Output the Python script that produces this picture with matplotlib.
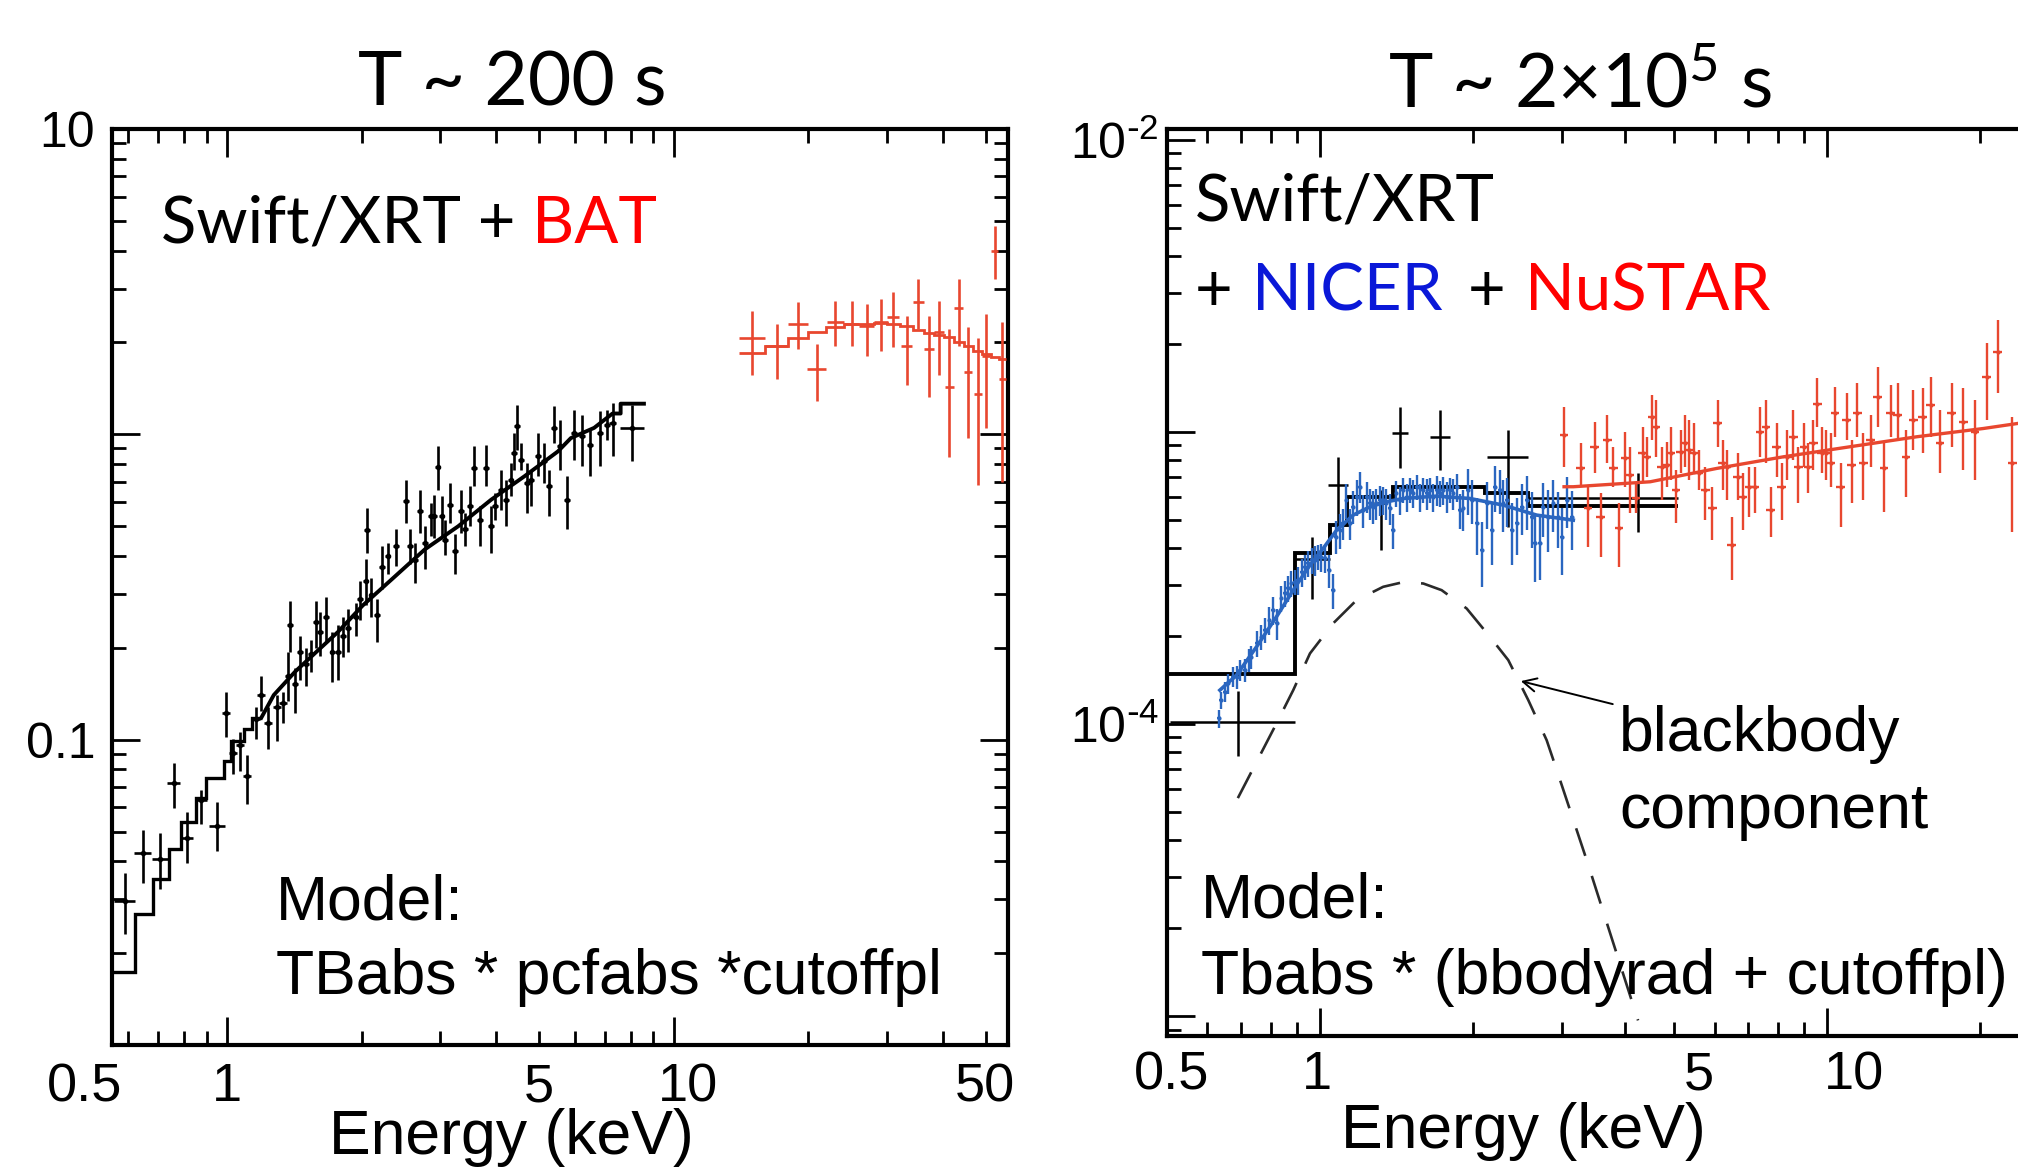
import numpy as np
import matplotlib
matplotlib.use("Agg")
import matplotlib.pyplot as plt
from matplotlib.ticker import FixedLocator, FuncFormatter, LogLocator, NullFormatter
from matplotlib.transforms import blended_transform_factory, offset_copy

plt.rcParams['font.family'] = ['Liberation Sans', 'DejaVu Sans']
plt.rcParams['mathtext.default'] = 'regular'

# ---------------- left panel: T ~ 200 s ----------------
# Swift/XRT points (keV, flux, lower, upper)
xrt1_e = [0.589, 0.647, 0.707, 0.758, 0.811, 0.873, 0.948, 0.992, 1.030, 1.068, 1.108, 1.160,
          1.192, 1.236, 1.294, 1.331, 1.368, 1.385, 1.419, 1.458, 1.499, 1.541, 1.578, 1.614,
          1.667, 1.720, 1.768, 1.817, 1.867, 1.938, 1.981, 2.040, 2.059, 2.103, 2.163, 2.220,
          2.285, 2.384, 2.51, 2.566, 2.633, 2.70, 2.771, 2.858, 2.908, 2.958, 3.019, 3.071,
          3.151, 3.233, 3.333, 3.402, 3.491, 3.570, 3.674, 3.802, 3.902, 3.983, 4.109, 4.215,
          4.309, 4.384, 4.46, 4.55, 4.69, 4.79, 4.96, 5.13, 5.26, 5.40, 5.56, 5.76, 5.98,
          6.22, 6.50, 6.84, 7.10, 7.29, 8.07]
xrt1_f = [0.0297, 0.0427, 0.0406, 0.0721, 0.0478, 0.0634, 0.0523, 0.122, 0.0906, 0.0961, 0.0759, 0.1167,
          0.1396, 0.1133, 0.1276, 0.1315, 0.1619, 0.2383, 0.1525, 0.1936, 0.177, 0.191, 0.242, 0.2245,
          0.253, 0.1936, 0.1936, 0.2182, 0.2314, 0.253, 0.2891, 0.3307, 0.4867, 0.298, 0.2567, 0.367,
          0.401, 0.430, 0.603, 0.430, 0.389, 0.560, 0.441, 0.539, 0.539, 0.782, 0.539, 0.452,
          0.589, 0.414, 0.560, 0.488, 0.581, 0.776, 0.526, 0.776, 0.500, 0.581, 0.659, 0.611,
          0.711, 0.869, 1.061, 0.826, 0.693, 0.711, 0.847, 0.815, 0.676, 1.049, 0.913, 0.611, 1.01,
          0.984, 0.925, 1.01, 1.075, 1.089, 1.049]
xrt1_lo = [0.0231, 0.0340, 0.0325, 0.0598, 0.0394, 0.0531, 0.0431, 0.102, 0.0770, 0.079, 0.0615, 0.1006,
           0.1239, 0.0934, 0.099, 0.1133, 0.1334, 0.1936, 0.122, 0.1572, 0.1504, 0.167, 0.1994, 0.188,
           0.2084, 0.1549, 0.1572, 0.186, 0.194, 0.2182, 0.246, 0.2767, 0.4072, 0.253, 0.2084, 0.311,
           0.35, 0.370, 0.513, 0.375, 0.327, 0.476, 0.361, 0.464, 0.458, 0.659, 0.464, 0.404,
           0.513, 0.348, 0.476, 0.430, 0.500, 0.676, 0.430, 0.676, 0.409, 0.526, 0.567, 0.500,
           0.627, 0.766, 0.891, 0.766, 0.553, 0.581, 0.729, 0.693, 0.539, 0.937, 0.766, 0.488, 0.826,
           0.785, 0.729, 0.785, 0.96, 0.847, 0.815]
xrt1_hi = [0.0366, 0.0507, 0.0493, 0.0841, 0.0580, 0.0683, 0.0625, 0.1437, 0.1006, 0.106, 0.0893, 0.1276,
           0.1619, 0.1276, 0.1396, 0.1437, 0.1936, 0.285, 0.1718, 0.2182, 0.1994, 0.212, 0.285, 0.261,
           0.2935, 0.2245, 0.2383, 0.253, 0.268, 0.2808, 0.33, 0.3894, 0.5735, 0.338, 0.2891, 0.432,
           0.44, 0.488, 0.711, 0.488, 0.441, 0.659, 0.500, 0.596, 0.635, 0.913, 0.627, 0.526,
           0.693, 0.470, 0.659, 0.553, 0.676, 0.913, 0.581, 0.925, 0.581, 0.643, 0.766, 0.711,
           0.806, 1.01, 1.249, 0.937, 0.806, 0.766, 1.01, 0.937, 0.766, 1.234, 1.116, 0.729, 1.203,
           1.159, 1.035, 1.188, 1.203, 1.266, 1.249]
# half bin width as a fraction of the energy
xrt1_dx = [0.055, 0.045, 0.04, 0.035, 0.035, 0.03, 0.04, 0.02, 0.02, 0.02, 0.02, 0.02,
           0.02, 0.02, 0.02, 0.02, 0.015, 0.015, 0.015, 0.015, 0.015, 0.015, 0.015, 0.015,
           0.015, 0.015, 0.015, 0.015, 0.015, 0.015, 0.015, 0.015, 0.015, 0.015, 0.015, 0.015,
           0.015, 0.015, 0.015, 0.015, 0.015, 0.015, 0.015, 0.015, 0.015, 0.015, 0.015, 0.015,
           0.015, 0.015, 0.015, 0.015, 0.015, 0.015, 0.015, 0.015, 0.015, 0.015, 0.015, 0.015,
           0.015, 0.015, 0.015, 0.015, 0.015, 0.015, 0.015, 0.015, 0.015, 0.015, 0.015, 0.015, 0.015,
           0.015, 0.015, 0.015, 0.015, 0.02, 0.06]
# XRT model: wide steps at low energy, then the densely binned part
xrt1_step_edges = [0.552, 0.622, 0.682, 0.740, 0.789, 0.849, 0.897, 0.983, 1.02, 1.088, 1.139, 1.192]
xrt1_step_vals = [0.0174, 0.0268, 0.0350, 0.0438, 0.0539, 0.0644, 0.0747, 0.0853, 0.0991, 0.108, 0.118]
xrt1_mod_e = [1.192, 1.271, 1.419, 1.584, 1.768, 2.01, 2.335, 2.77, 3.29, 3.90, 4.63, 5.50, 5.88,
              6.63, 7.29, 7.60, 7.60, 8.57]
xrt1_mod_f = [0.118, 0.140, 0.167, 0.194, 0.225, 0.275, 0.335, 0.420, 0.500, 0.611, 0.729, 0.879, 0.972,
              1.05, 1.17, 1.17, 1.26, 1.26]

# Swift/BAT points
bat_e = [15.0, 17.0, 19.0, 20.9, 23.0, 25.0, 27.0, 29.1, 31.0, 33.2, 35.3, 37.3, 39.3, 41.4,
         43.5, 45.6, 47.9, 50.1, 52.3, 54.4]
bat_f = [2.06, 1.94, 2.30, 1.64, 2.34, 2.30, 2.27, 2.33, 2.42, 1.95, 2.71, 1.91, 2.16, 1.43,
         2.59, 1.60, 1.36, 1.81, 3.98, 1.52]
bat_lo = [1.56, 1.52, 1.91, 1.29, 1.95, 1.95, 1.81, 1.88, 1.93, 1.45, 2.21, 1.33, 1.56, 0.84,
          1.95, 0.97, 0.68, 1.05, 3.22, 0.70]
bat_hi = [2.54, 2.30, 2.71, 1.98, 2.74, 2.74, 2.67, 2.77, 2.92, 2.45, 3.22, 2.45, 2.74, 2.21,
          3.22, 2.24, 2.06, 2.48, 4.81, 2.33]
bat_de = 1.0  # keV half width of the BAT bins
bat_mod = [1.84, 1.94, 2.06, 2.16, 2.24, 2.30, 2.30, 2.31, 2.30, 2.27, 2.20, 2.15, 2.11, 2.08,
           2.00, 1.95, 1.88, 1.83, 1.79, 1.76]

# ---------------- right panel: T ~ 2x10^5 s ----------------
xrt2_e = [0.69, 0.967, 1.087, 1.317, 1.438, 1.725, 2.345, 4.24]
xrt2_elo = [0.506, 0.893, 1.038, 1.28, 1.385, 1.648, 2.132, 2.57]
xrt2_ehi = [0.893, 1.046, 1.137, 1.35, 1.493, 1.805, 2.576, 5.09]
xrt2_f = [1.02e-4, 3.69e-4, 6.58e-4, 5.7e-4, 9.9e-4, 9.64e-4, 8.23e-4, 5.97e-4]
xrt2_lo = [7.8e-5, 2.69e-4, 4.87e-4, 3.94e-4, 7.51e-4, 7.41e-4, 4.74e-4, 4.55e-4]
xrt2_hi = [1.3e-4, 4.38e-4, 8.23e-4, 6.33e-4, 1.22e-3, 1.19e-3, 1.016e-3, 7.26e-4]
xrt2_mod_edges = [0.5, 0.893, 1.046, 1.129, 1.395, 2.116, 2.576, 5.09]
xrt2_mod_vals = [1.49e-4, 3.85e-4, 4.8e-4, 6.0e-4, 6.5e-4, 6.17e-4, 5.6e-4]

nicer_e = [0.633, 0.637, 0.650, 0.659, 0.673, 0.685, 0.697, 0.711, 0.724, 0.733, 0.752, 0.767,
           0.779, 0.795, 0.809, 0.824, 0.840, 0.853, 0.866, 0.879, 0.893, 0.906, 0.920, 0.934,
           0.948, 0.963, 0.977, 0.992, 1.007, 1.023, 1.043, 1.062,
           1.075, 1.095, 1.112, 1.128, 1.146, 1.163, 1.181, 1.199, 1.217, 1.236, 1.255, 1.274,
           1.293, 1.313, 1.333, 1.353, 1.374, 1.395,
           1.416, 1.438, 1.460, 1.482, 1.505, 1.528, 1.551, 1.575, 1.599, 1.623, 1.648, 1.673,
           1.699, 1.725, 1.751, 1.778, 1.805, 1.833, 1.860, 1.889,
           1.918, 1.961, 1.991, 2.037, 2.084, 2.132, 2.181, 2.214, 2.265, 2.300, 2.335, 2.388,
           2.443, 2.499, 2.557, 2.616, 2.656, 2.716, 2.757, 2.820, 2.886, 2.952, 2.997, 3.066, 3.136]
nicer_f = [1.046e-4, 1.208e-4, 1.290e-4, 1.378e-4, 1.452e-4, 1.452e-4, 1.531e-4, 1.531e-4, 1.657e-4,
           1.701e-4, 1.889e-4, 1.991e-4, 2.099e-4, 2.271e-4, 2.458e-4, 2.212e-4, 2.694e-4, 2.802e-4,
           2.914e-4, 3.031e-4, 3.071e-4, 3.112e-4, 3.322e-4, 3.456e-4, 3.549e-4, 3.643e-4, 3.643e-4,
           3.741e-4, 3.741e-4, 3.692e-4, 3.366e-4, 2.876e-4,
           4.379e-4, 4.617e-4, 4.866e-4, 5.848e-4, 4.866e-4, 5.549e-4, 6.003e-4, 6.500e-4, 5.405e-4,
           6.003e-4, 5.696e-4, 5.549e-4, 5.696e-4, 5.848e-4, 5.848e-4, 5.696e-4, 5.476e-4, 4.617e-4,
           6.166e-4, 5.848e-4, 6.330e-4, 6.003e-4, 6.330e-4, 6.166e-4, 6.500e-4, 6.003e-4, 6.330e-4,
           6.166e-4, 6.330e-4, 6.003e-4, 6.330e-4, 6.166e-4, 6.330e-4, 6.003e-4, 6.330e-4, 6.166e-4,
           6.500e-4, 5.405e-4,
           5.476e-4, 6.330e-4, 5.848e-4, 4.866e-4, 3.943e-4, 5.696e-4, 4.617e-4, 6.500e-4, 6.330e-4,
           5.696e-4, 5.848e-4, 4.617e-4, 4.866e-4, 5.549e-4, 5.848e-4, 5.129e-4, 4.155e-4, 4.155e-4,
           5.549e-4, 5.129e-4, 5.696e-4, 5.129e-4, 4.379e-4, 5.848e-4, 5.129e-4]
# relative size of each NICER bar
nicer_err = [0.07, 0.07, 0.08, 0.08, 0.08, 0.09, 0.08, 0.09, 0.09, 0.09, 0.10, 0.10, 0.10, 0.11,
             0.11, 0.12, 0.10, 0.10, 0.10, 0.10, 0.10, 0.11, 0.11, 0.10, 0.10, 0.10, 0.12, 0.10,
             0.11, 0.11, 0.13, 0.14,
             0.13, 0.14, 0.12, 0.14, 0.12, 0.13, 0.14, 0.12, 0.13, 0.12, 0.12, 0.13, 0.12, 0.12,
             0.11, 0.12, 0.12, 0.14,
             0.10, 0.11, 0.10, 0.11, 0.10, 0.11, 0.10, 0.11, 0.10, 0.12, 0.10, 0.11, 0.12, 0.10,
             0.11, 0.12, 0.10, 0.12, 0.11, 0.14,
             0.16, 0.18, 0.17, 0.22, 0.25, 0.18, 0.24, 0.18, 0.17, 0.20, 0.19, 0.24, 0.22, 0.20,
             0.21, 0.22, 0.26, 0.25, 0.21, 0.24, 0.20, 0.22, 0.26, 0.20, 0.23]
nicer_mod_e = [0.635, 0.685, 0.750, 0.821, 0.899, 0.956, 1.015, 1.079, 1.163, 1.255, 1.353, 1.460,
               1.699, 1.976, 2.300, 2.676, 3.16]
nicer_mod_f = [1.307e-4, 1.472e-4, 1.840e-4, 2.331e-4, 2.992e-4, 3.503e-4, 3.995e-4, 4.617e-4,
               5.197e-4, 5.549e-4, 5.771e-4, 5.925e-4, 6.037e-4, 5.925e-4, 5.623e-4, 5.197e-4, 4.994e-4]

nustar_e = [3.03, 3.27, 3.38, 3.48, 3.58, 3.69, 3.79, 3.89, 4.00, 4.09, 4.20, 4.33, 4.41, 4.52,
            4.60, 4.72, 4.83, 4.92, 5.04, 5.15, 5.25, 5.35, 5.47, 5.58, 5.75, 5.94, 6.09, 6.23,
            6.34, 6.49, 6.66, 6.82, 7.03, 7.21, 7.38, 7.58, 7.75, 7.96, 8.14, 8.35, 8.58, 8.78,
            9.01, 9.19, 9.40, 9.57, 9.76, 9.95, 10.18, 10.37, 10.64, 10.94, 11.19, 11.48, 11.80,
            12.19, 12.59, 12.96, 13.36, 13.79, 14.32, 14.80, 15.44, 16.02, 16.71, 17.62, 18.57,
            19.58, 20.65, 21.71, 23.2]
# NuSTAR fluxes in units of 1e-4
nustar_f4 = [9.77, 7.51, 5.48, 8.91, 5.13, 9.39, 7.51, 4.68, 8.13, 7.12,
             5.93, 8.45, 8.23, 11.28, 10.43, 7.61, 7.71, 8.45, 6.33, 8.56,
             9.15, 8.68, 8.45, 7.22, 6.33, 5.48, 10.71, 7.81, 7.61, 4.10,
             7.03, 6.00, 6.50, 6.50, 10.03, 10.43, 5.41, 8.91, 6.50, 8.23,
             9.64, 7.61, 8.91, 7.61, 9.15, 12.53, 8.45, 8.45, 7.81, 11.59,
             6.50, 10.99, 7.71, 11.59, 7.81, 9.39, 13.21, 7.51, 11.59, 11.44,
             8.23, 10.99, 11.28, 12.37, 9.15, 11.59, 10.85, 10.03, 15.47, 18.85, 7.81]
nustar_hi4 = [12.21, 9.15, 6.50, 10.85, 6.17, 11.44, 8.91, 5.70, 10.03, 8.91,
              6.76, 10.43, 9.64, 13.38, 12.87, 8.91, 9.27, 10.43, 7.41, 10.16,
              11.44, 10.99, 10.71, 8.68, 7.61, 6.50, 12.87, 9.39, 8.68, 5.13,
              8.45, 7.22, 7.61, 7.61, 12.21, 12.87, 6.50, 10.71, 7.81, 10.16,
              11.89, 8.91, 10.71, 9.15, 10.99, 15.27, 10.43, 10.16, 9.90, 14.30,
              7.81, 13.56, 9.39, 14.68, 9.90, 11.44, 16.74, 9.15, 14.49, 14.68,
              10.16, 13.92, 14.11, 15.47, 11.89, 14.68, 14.11, 12.87, 20.12, 24.19, 11.28]
nustar_lo4 = [7.61, 6.50, 4.05, 7.22, 3.74, 7.81, 6.50, 3.46, 6.50, 5.27,
              5.27, 6.76, 7.03, 9.39, 8.23, 5.85, 6.50, 6.85, 4.87, 7.22,
              7.61, 6.85, 7.22, 6.33, 4.99, 4.27, 8.91, 6.33, 5.85, 3.11,
              5.85, 4.62, 5.13, 5.27, 8.23, 7.81, 4.38, 7.03, 4.99, 6.85,
              8.02, 5.70, 7.61, 6.17, 7.41, 10.43, 7.22, 6.85, 6.50, 9.64,
              4.74, 9.39, 5.70, 9.64, 5.85, 7.61, 10.43, 5.34, 9.64, 9.39,
              6.00, 8.68, 8.45, 9.64, 7.22, 8.91, 7.41, 6.85, 10.99, 13.56, 4.56]
nustar_mod_e = [3.03, 3.16, 4.48, 6.06, 8.20, 11.1, 15.03, 20.34, 23.8]
nustar_mod_f4 = [6.50, 6.50, 6.76, 7.51, 8.23, 8.91, 9.64, 10.29, 10.71]

# blackbody component (dashed)
bb_e = [0.689, 0.821, 0.886, 0.956, 1.062, 1.181, 1.333, 1.460, 1.599, 1.738, 1.947, 2.164,
        2.352, 2.576, 2.80, 2.92, 3.37, 4.24]
bb_f = [5.58e-5, 1.005e-4, 1.307e-4, 1.746e-4, 2.213e-4, 2.658e-4, 2.953e-4, 3.064e-4, 3.031e-4,
        2.876e-4, 2.489e-4, 1.991e-4, 1.657e-4, 1.208e-4, 8.81e-5, 7.1e-5, 3.36e-5, 9.67e-6]

# x tick labels: (energy, text, shift in pixels as placed in the slide)
left_xlabels = [(0.5, '0.5', -8), (1, '1', 0), (5, '5', -1), (10, '10', 14), (50, '50', -1)]
right_xlabels = [(0.5, '0.5', 4), (1, '1', -3), (5, '5', 25), (10, '10', 27)]

BLACK = 'black'
RED_DATA = '#e8472f'
BLUE_DATA = '#2a66c0'
RED_TXT = '#ff0000'
BLUE_TXT = '#0a18d8'

W, H = 2018, 1170
fig = plt.figure(figsize=(W / 100, H / 100), dpi=100)


def fx(px):
    return px / W


def fy(py):
    return 1 - py / H


ax1 = fig.add_axes([fx(112), fy(1045), (1008 - 112) / W, (1045 - 129) / H])
ax2 = fig.add_axes([fx(1167), fy(1036), (2069 - 1167) / W, (1036 - 129) / H])


def asym(val, lo, hi):
    val, lo, hi = np.asarray(val), np.asarray(lo), np.asarray(hi)
    return [val - lo, hi - val]


# ---- left panel drawing ----
e1 = np.array(xrt1_e)
dx1 = e1 * np.array(xrt1_dx)
ax1.errorbar(e1, xrt1_f, yerr=asym(xrt1_f, xrt1_lo, xrt1_hi), xerr=dx1,
             fmt='.', ms=6, color=BLACK, elinewidth=1.9, capsize=0, zorder=3)
ax1.stairs(xrt1_step_vals, xrt1_step_edges, baseline=None, color=BLACK, lw=2.4, zorder=4)
ax1.plot(xrt1_mod_e, xrt1_mod_f, color=BLACK, lw=2.8, zorder=4)

be = np.array(bat_e)
ax1.errorbar(be, bat_f, yerr=asym(bat_f, bat_lo, bat_hi), xerr=bat_de,
             fmt='none', color=RED_DATA, elinewidth=1.9, capsize=0, zorder=3)
bat_edges = np.concatenate([[be[0] - bat_de], (be[1:] + be[:-1]) / 2, [be[-1] + bat_de]])
ax1.stairs(bat_mod, bat_edges, baseline=None, color=RED_DATA, lw=2.0, zorder=4)

ax1.set_xscale('log')
ax1.set_yscale('log')
ax1.set_xlim(0.552, 56)
ax1.set_ylim(0.01, 10)

# ---- right panel drawing ----
ne = np.array(nicer_e)
nf = np.array(nicer_f)
ax2.errorbar(ne, nf, yerr=nf * np.array(nicer_err), xerr=ne * 0.008,
             fmt='.', ms=4, color=BLUE_DATA, elinewidth=1.7, capsize=0, zorder=3)
ax2.plot(nicer_mod_e, nicer_mod_f, color=BLUE_DATA, lw=2.6, zorder=4)

xe2 = np.array(xrt2_e)
ax2.errorbar(xe2, xrt2_f, yerr=asym(xrt2_f, xrt2_lo, xrt2_hi),
             xerr=[xe2 - np.array(xrt2_elo), np.array(xrt2_ehi) - xe2],
             fmt='none', color=BLACK, elinewidth=1.8, capsize=0, zorder=2)
ax2.stairs(xrt2_mod_vals, xrt2_mod_edges, baseline=None, color=BLACK, lw=2.8, zorder=2)

nue = np.array(nustar_e)
nuf = np.array(nustar_f4) * 1e-4
ax2.errorbar(nue, nuf, yerr=asym(nuf, np.array(nustar_lo4) * 1e-4, np.array(nustar_hi4) * 1e-4),
             xerr=nue * 0.02, fmt='.', ms=4, color=RED_DATA, elinewidth=1.7, capsize=0, zorder=3)
ax2.plot(nustar_mod_e, np.array(nustar_mod_f4) * 1e-4, color=RED_DATA, lw=2.4, zorder=4)

ax2.plot(bb_e, bb_f, color='#2a2a2a', lw=1.9, dashes=(11, 8), zorder=4)
ax2.annotate('', xy=(2.49, 1.404e-4), xytext=(3.78, 1.171e-4),
             arrowprops=dict(arrowstyle='->', lw=1.4, color=BLACK, mutation_scale=24,
                             shrinkA=0, shrinkB=0), zorder=5)

ax2.set_xscale('log')
ax2.set_yscale('log')
ax2.set_xlim(0.4995, 30)
ax2.set_ylim(10 ** -5.068, 10 ** -1.962)

# ---- axes styling ----
XT_FS = 39
YT_FS = 36
for ax in (ax1, ax2):
    for sp in ax.spines.values():
        sp.set_linewidth(3)
    ax.tick_params(which='both', direction='in', top=True, right=True, width=2, labelsize=YT_FS)
    ax.tick_params(which='major', length=20)
    ax.tick_params(which='minor', length=10)
    ax.xaxis.set_major_locator(FixedLocator([1, 10]))
    ax.xaxis.set_minor_locator(LogLocator(base=10, subs=np.arange(2, 10)))
    ax.xaxis.set_major_formatter(NullFormatter())
    ax.xaxis.set_minor_formatter(NullFormatter())
    ax.yaxis.set_minor_locator(LogLocator(base=10, subs=np.arange(2, 10), numticks=20))
    ax.yaxis.set_minor_formatter(NullFormatter())

ax1.yaxis.set_major_locator(FixedLocator([0.01, 0.1, 1, 10]))
ax1.yaxis.set_major_formatter(FuncFormatter(
    lambda v, p: '10' if abs(v - 10) < 1e-6 else ('0.1' if abs(v - 0.1) < 1e-9 else '')))
ax1.tick_params(axis='y', which='both', pad=12)

ax2.yaxis.set_major_locator(FixedLocator([1e-5, 1e-4, 1e-3, 1e-2]))
ax2.yaxis.set_major_formatter(FuncFormatter(
    lambda v, p: {-2: r'$10^{\text{-}2}$', -4: r'$10^{\text{-}4}$'}.get(int(round(np.log10(v))), '')))
ax2.tick_params(axis='y', which='both', pad=6)

# x tick labels placed where the slide has them
for ax, labels, top_px, bottom_px in ((ax1, left_xlabels, 1062, 1045), (ax2, right_xlabels, 1050, 1036)):
    base = blended_transform_factory(ax.transData, ax.transAxes)
    for val, txt, shift in labels:
        tr = offset_copy(base, fig=fig, x=shift, y=-(top_px - bottom_px), units='dots')
        ax.text(val, 0, txt, transform=tr, ha='center', va='top', fontsize=XT_FS, clip_on=False)

# ---- texts ----
TITLE_FONT = ['Lato', 'DejaVu Sans']
fig.text(fx(512), fy(105), 'T ~ 200 s', fontsize=54, family=TITLE_FONT, ha='center', va='baseline')
fig.text(fx(1580), fy(107), 'T ~ 2\u00d710$^{5}$ s', fontsize=54, family=TITLE_FONT,
         ha='center', va='baseline')

LAB_FS = 47
fig.text(fx(161), fy(243), 'Swift/XRT +', fontsize=LAB_FS, family=TITLE_FONT, va='baseline')
fig.text(fx(532), fy(243), 'BAT', fontsize=LAB_FS, family=TITLE_FONT, va='baseline', color=RED_TXT)
fig.text(fx(1195), fy(221), 'Swift/XRT', fontsize=LAB_FS, family=TITLE_FONT, va='baseline')
fig.text(fx(1195), fy(311), '+', fontsize=LAB_FS, family=TITLE_FONT, va='baseline')
fig.text(fx(1252), fy(311), 'NICER', fontsize=LAB_FS, family=TITLE_FONT, va='baseline', color=BLUE_TXT)
fig.text(fx(1468), fy(311), '+', fontsize=LAB_FS, family=TITLE_FONT, va='baseline')
fig.text(fx(1525), fy(311), 'NuSTAR', fontsize=LAB_FS, family=TITLE_FONT, va='baseline', color=RED_TXT)

MOD_FS = 45
fig.text(fx(276), fy(919), 'Model:', fontsize=MOD_FS, va='baseline')
fig.text(fx(276), fy(994), 'TBabs * pcfabs *cutoffpl', fontsize=MOD_FS, va='baseline')
fig.text(fx(1201), fy(917), 'Model:', fontsize=MOD_FS, va='baseline')
fig.text(fx(1201), fy(994), 'Tbabs * (bbodyrad + cutoffpl)', fontsize=MOD_FS, va='baseline')
fig.text(fx(1619), fy(751), 'blackbody', fontsize=MOD_FS, va='baseline')
fig.text(fx(1619), fy(828), 'component', fontsize=MOD_FS, va='baseline')

fig.text(fx(511), fy(1154), 'Energy (keV)', fontsize=45, ha='center', va='baseline')
fig.text(fx(1523), fy(1148), 'Energy (keV)', fontsize=45, ha='center', va='baseline')

fig.savefig('out.png', dpi=100, facecolor='white')
